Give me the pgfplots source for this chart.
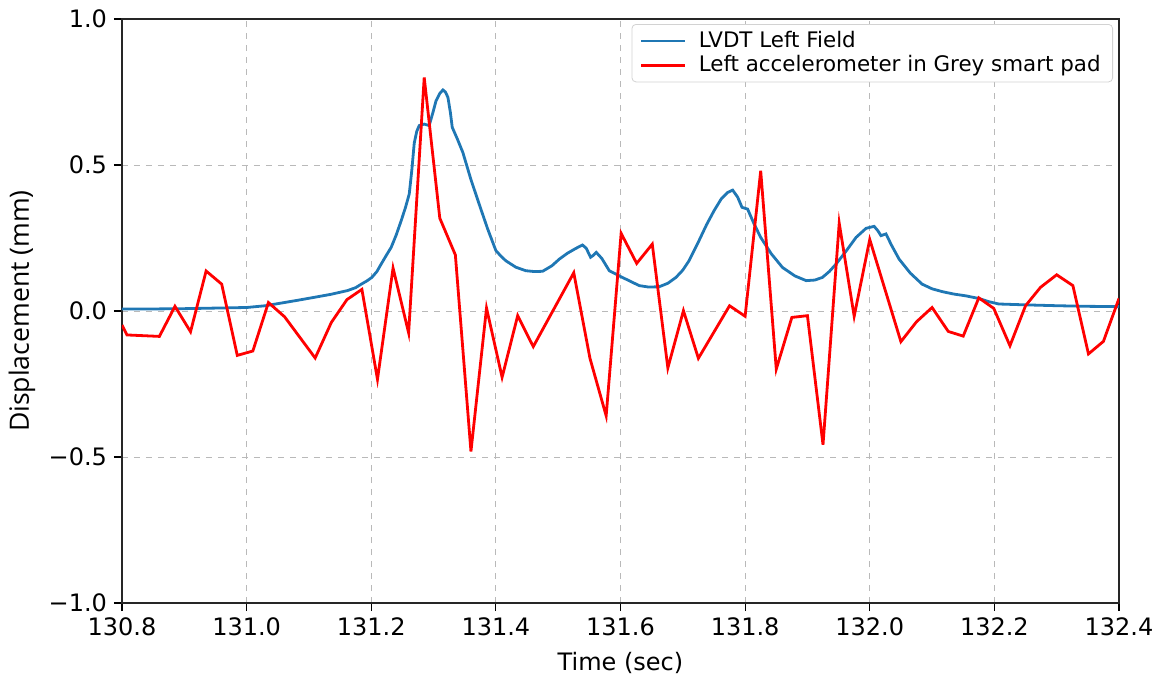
\documentclass[border=0pt]{standalone}
\usepackage{pgfplots}
\pgfplotsset{compat=1.18}
\usepackage{fontspec}
\setmainfont{DejaVu Sans}
\newfontfamily\ylabfont{Open Sans}
\definecolor{mplblue}{HTML}{1F77B4}
\begin{document}
\begin{tikzpicture}
\useasboundingbox (-61pt,-39pt) rectangle (523pt,301.5pt);
\begin{axis}[
  at={(0,0)}, anchor=south west,
  scale only axis, width=498.5pt, height=292pt,
  xmin=130.8, xmax=132.4, ymin=-1, ymax=1,
  xtick={130.8,131.0,131.2,131.4,131.6,131.8,132.0,132.2,132.4},
  xticklabels={130.8,131.0,131.2,131.4,131.6,131.8,132.0,132.2,132.4},
  ytick={-1,-0.5,0,0.5,1},
  yticklabels={−1.0,−0.5,0.0,0.5,1.0},
  tick label style={font=\fontsize{12}{14}\selectfont},
  tick align=outside, tick pos=left, major tick length=4pt,
  tick style={line width=0.6pt, black},
  axis line style={line width=0.8pt, black!85},
  grid=major,
  major grid style={dashed, line width=0.4pt, gray!55},
  xlabel={Time (sec)},
  ylabel={\ylabfont\fontsize{13.3}{15}\selectfont Displacement (mm)},
  label style={font=\fontsize{12}{14}\selectfont},
  xlabel style={at={(axis description cs:0.5,-0.1027)}, anchor=center},
  ylabel style={at={(axis description cs:-0.1003,0.5)}, anchor=center},
  legend style={at={(1,1)}, xshift=-3pt, yshift=-2.5pt, anchor=north east, draw=gray!35, rounded corners=2pt,
    font=\fontsize{10.7}{11}\selectfont, cells={anchor=west}, inner xsep=4pt, inner ysep=1.5pt,
    column sep=4pt, row sep=-1.5pt},
  legend image code/.code={\draw[#1] (0pt,0pt) -- (22pt,0pt);},
]
\addplot[mplblue, line width=1.4pt] coordinates {
(130.800,0.007) (130.850,0.007) (130.900,0.008) (130.950,0.010) (131.000,0.012)
(131.030,0.018) (131.055,0.027) (131.080,0.036) (131.109,0.047) (131.135,0.057)
(131.162,0.070) (131.175,0.080) (131.184,0.092) (131.193,0.103) (131.201,0.115)
(131.209,0.135) (131.216,0.161) (131.224,0.190) (131.232,0.218) (131.240,0.260)
(131.248,0.309) (131.255,0.355) (131.261,0.401) (131.265,0.480) (131.269,0.575)
(131.273,0.615) (131.277,0.635) (131.285,0.640) (131.293,0.635) (131.299,0.680)
(131.304,0.720) (131.310,0.745) (131.315,0.757) (131.319,0.750) (131.323,0.732)
(131.327,0.680) (131.330,0.629) (131.338,0.590) (131.347,0.543) (131.360,0.450)
(131.374,0.361) (131.387,0.280) (131.400,0.207) (131.408,0.188) (131.416,0.172)
(131.432,0.150) (131.448,0.138) (131.462,0.135) (131.475,0.136) (131.490,0.155)
(131.502,0.178) (131.515,0.198) (131.528,0.214) (131.539,0.226) (131.545,0.215)
(131.552,0.184) (131.556,0.190) (131.561,0.201) (131.570,0.180) (131.582,0.138)
(131.603,0.115) (131.630,0.087) (131.645,0.082) (131.662,0.083) (131.676,0.095)
(131.689,0.115) (131.700,0.140) (131.710,0.172) (131.726,0.241) (131.738,0.295)
(131.750,0.343) (131.762,0.385) (131.772,0.406) (131.780,0.414) (131.788,0.390)
(131.795,0.355) (131.804,0.349) (131.814,0.300) (131.825,0.252) (131.842,0.196)
(131.860,0.149) (131.880,0.120) (131.898,0.104) (131.912,0.106) (131.924,0.115)
(131.935,0.135) (131.946,0.161) (131.962,0.205) (131.978,0.252) (131.994,0.283)
(132.007,0.290) (132.013,0.275) (132.018,0.258) (132.026,0.264) (132.035,0.225)
(132.047,0.178) (132.065,0.130) (132.084,0.092) (132.100,0.076) (132.117,0.066)
(132.135,0.058) (132.154,0.052) (132.175,0.043) (132.191,0.032) (132.207,0.024)
(132.250,0.021) (132.302,0.018) (132.350,0.016) (132.400,0.015)
};
\addlegendentry{LVDT Left Field}
\addplot[red, line width=1.4pt] coordinates {
(130.800,-0.048) (130.808,-0.082) (130.860,-0.087) (130.885,0.016) (130.910,-0.071)
(130.935,0.137) (130.960,0.092) (130.985,-0.152) (131.010,-0.137) (131.035,0.029)
(131.061,-0.020) (131.110,-0.161) (131.136,-0.039) (131.161,0.039) (131.185,0.074)
(131.210,-0.234) (131.235,0.147) (131.260,-0.075) (131.285,0.800) (131.310,0.318)
(131.335,0.192) (131.360,-0.481) (131.385,0.010) (131.410,-0.227) (131.435,-0.016)
(131.460,-0.122) (131.525,0.131) (131.551,-0.162) (131.577,-0.359) (131.601,0.266)
(131.626,0.163) (131.651,0.229) (131.676,-0.195) (131.701,0.001) (131.725,-0.162)
(131.775,0.018) (131.800,-0.018) (131.825,0.480) (131.850,-0.199) (131.875,-0.022)
(131.900,-0.016) (131.925,-0.458) (131.951,0.301) (131.975,-0.018) (132.000,0.245)
(132.050,-0.105) (132.075,-0.037) (132.100,0.012) (132.126,-0.070) (132.150,-0.086)
(132.175,0.045) (132.199,0.009) (132.225,-0.119) (132.250,0.018) (132.274,0.081)
(132.300,0.124) (132.326,0.087) (132.351,-0.147) (132.375,-0.104) (132.400,0.043)
};
\addlegendentry{Left accelerometer in Grey smart pad}
\end{axis}
\end{tikzpicture}
\end{document}
